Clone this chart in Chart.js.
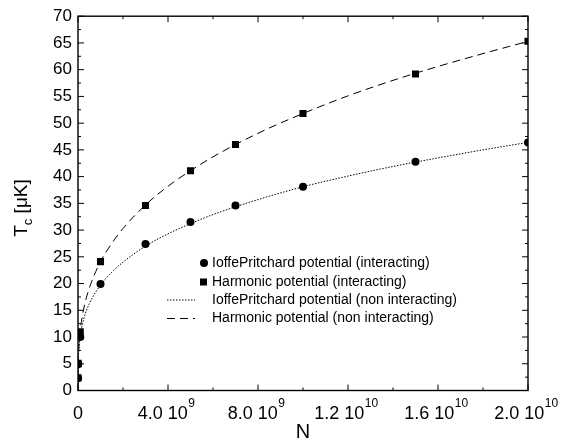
<!DOCTYPE html>
<html>
<head>
<meta charset="utf-8">
<script src="https://cdn.jsdelivr.net/npm/chart.js@4"></script>
<style>
  body { margin: 0; background: #fff; }
  #wrap { width: 565px; height: 441px; }
</style>
</head>
<body>
<div id="wrap"><canvas id="myChart" width="565" height="441"></canvas></div>
<script>
// measured points (N, Tc in microK)
const nMeasured = [1e6, 1e7, 1e8, 1e9, 3e9, 5e9, 7e9, 1e10, 1.5e10, 2e10];
const ioffeInteracting = [2.3, 4.9, 10.0, 19.9, 27.4, 31.5, 34.6, 38.1, 42.8, 46.4];
const harmonicInteracting = [2.4, 5.1, 11.0, 24.1, 34.6, 41.1, 46.0, 51.8, 59.2, 65.3];

// non interacting curves
const nCurve = [0, 1e6, 1e7, 5e7, 1e8, 2.5e8, 5e8, 1e9, 1.5e9, 2e9, 3e9, 4e9, 5e9, 6e9, 8e9, 1e10, 1.2e10, 1.4e10, 1.6e10, 1.8e10, 2e10];
const ioffeCurve = [0, 2.7, 5.3, 8.4, 10.2, 13.3, 16.2, 19.7, 22.1, 24.0, 27.0, 29.3, 31.2, 32.9, 35.7, 38.1, 40.1, 41.9, 43.5, 45.0, 46.4];
const harmonicCurve = [0, 2.4, 5.2, 8.9, 11.2, 15.2, 19.1, 24.1, 27.5, 30.3, 34.7, 38.2, 41.1, 43.7, 48.1, 51.8, 55.1, 58.0, 60.6, 63.0, 65.3];

// x tick labels: mantissa and power of ten
const xTickValues = [0, 4e9, 8e9, 1.2e10, 1.6e10, 2e10];
const xTickBase = ['0', '4.0 10', '8.0 10', '1.2 10', '1.6 10', '2.0 10'];
const xTickExp = ['', '9', '9', '10', '10', '10'];

const FONT = 'Liberation Sans, Arial, Helvetica, sans-serif';

function pts(xs, ys) {
    return xs.map((x, i) => ({ x: x, y: ys[i] }));
}

// frame, inward ticks, tick labels with exponents, axis titles and legend
const extras = {
    id: 'extras',
    afterDraw(chart) {
        const ctx = chart.ctx;
        const a = chart.chartArea;
        const xs = chart.scales.x, ys = chart.scales.y;
        ctx.save();
        ctx.strokeStyle = '#000';
        ctx.lineWidth = 1.4;
        ctx.strokeRect(a.left, a.top, a.right - a.left, a.bottom - a.top);

        ctx.lineWidth = 1;
        ctx.beginPath();
        const xt = xs.ticks.map(t => t.value);
        for (let i = 0; i < xt.length; i++) {
            const px = xs.getPixelForValue(xt[i]);
            ctx.moveTo(px, a.bottom); ctx.lineTo(px, a.bottom - 6);
            ctx.moveTo(px, a.top); ctx.lineTo(px, a.top + 6);
            if (i < xt.length - 1) {
                const pm = xs.getPixelForValue((xt[i] + xt[i + 1]) / 2);
                ctx.moveTo(pm, a.bottom); ctx.lineTo(pm, a.bottom - 3);
                ctx.moveTo(pm, a.top); ctx.lineTo(pm, a.top + 3);
            }
        }
        const yt = ys.ticks.map(t => t.value);
        for (let i = 0; i < yt.length; i++) {
            const py = ys.getPixelForValue(yt[i]);
            ctx.moveTo(a.left, py); ctx.lineTo(a.left + 6, py);
            ctx.moveTo(a.right, py); ctx.lineTo(a.right - 6, py);
            if (i < yt.length - 1) {
                const pm = ys.getPixelForValue((yt[i] + yt[i + 1]) / 2);
                ctx.moveTo(a.left, pm); ctx.lineTo(a.left + 3, pm);
                ctx.moveTo(a.right, pm); ctx.lineTo(a.right - 3, pm);
            }
        }
        ctx.stroke();

        // x tick labels like "4.0 10^9"
        ctx.fillStyle = '#000';
        ctx.textBaseline = 'alphabetic';
        ctx.textAlign = 'left';
        xTickValues.forEach((v, i) => {
            const px = xs.getPixelForValue(v);
            ctx.font = '18px ' + FONT;
            const wb = ctx.measureText(xTickBase[i]).width;
            ctx.font = '12px ' + FONT;
            const we = xTickExp[i] ? ctx.measureText(xTickExp[i]).width : 0;
            const left = px - (wb + we) / 2 - (we ? 2 : 0);
            ctx.font = '18px ' + FONT;
            ctx.fillText(xTickBase[i], left, a.bottom + 28.5);
            if (we) {
                ctx.font = '12px ' + FONT;
                ctx.fillText(xTickExp[i], left + wb + 0.5, a.bottom + 16.5);
            }
        });

        // x axis title
        ctx.font = '20px ' + FONT;
        ctx.textAlign = 'center';
        ctx.fillText('N', (a.left + a.right) / 2, 438);
        ctx.textAlign = 'left';

        // y axis title T_c [uK]
        ctx.translate(27, 208);
        ctx.rotate(-Math.PI / 2);
        ctx.font = '19px ' + FONT;
        const wT = ctx.measureText('T').width;
        const wRest = ctx.measureText(' [\u03bcK]').width;
        ctx.font = '13px ' + FONT;
        const wc = ctx.measureText('c').width;
        const x0 = -(wT + wc + wRest) / 2;
        ctx.font = '19px ' + FONT;
        ctx.fillText('T', x0, 0);
        ctx.font = '13px ' + FONT;
        ctx.fillText('c', x0 + wT, 5);
        ctx.font = '19px ' + FONT;
        ctx.fillText(' [\u03bcK]', x0 + wT + wc, 0);
        ctx.restore();

        // legend inside the plot
        ctx.save();
        ctx.font = '14px ' + FONT;
        ctx.textBaseline = 'middle';
        ctx.fillStyle = '#000';
        ctx.strokeStyle = '#000';
        const rows = [263, 282, 300, 318.5];
        chart.data.datasets.forEach((ds, i) => {
            const y = rows[i];
            if (ds.showLine) {
                ctx.lineWidth = ds.borderWidth;
                ctx.setLineDash(ds.borderDash);
                ctx.beginPath();
                ctx.moveTo(167, y); ctx.lineTo(195, y);
                ctx.stroke();
                ctx.setLineDash([]);
            } else if (ds.pointStyle === 'circle') {
                ctx.beginPath();
                ctx.arc(204, y, 4, 0, Math.PI * 2);
                ctx.fill();
            } else {
                ctx.fillRect(200, y - 3.5, 7, 7);
            }
            ctx.fillText(ds.label, 212, y);
        });
        ctx.restore();
    }
};

const ctx = document.getElementById('myChart').getContext('2d');
const chart = new Chart(ctx, {
    type: 'scatter',
    data: {
        datasets: [
            {
                label: 'IoffePritchard potential (interacting)',
                data: pts(nMeasured, ioffeInteracting),
                showLine: false,
                pointStyle: 'circle',
                pointRadius: 4,
                backgroundColor: '#000',
                borderColor: '#000',
                borderWidth: 0
            },
            {
                label: 'Harmonic potential (interacting)',
                data: pts(nMeasured, harmonicInteracting),
                showLine: false,
                pointStyle: 'rect',
                pointRadius: 5,
                backgroundColor: '#000',
                borderColor: '#000',
                borderWidth: 0
            },
            {
                label: 'IoffePritchard potential (non interacting)',
                data: pts(nCurve, ioffeCurve),
                showLine: true,
                pointRadius: 0,
                borderColor: '#000',
                borderWidth: 1,
                borderDash: [1.5, 1.5],
                cubicInterpolationMode: 'monotone'
            },
            {
                label: 'Harmonic potential (non interacting)',
                data: pts(nCurve, harmonicCurve),
                showLine: true,
                pointRadius: 0,
                borderColor: '#000',
                borderWidth: 1,
                borderDash: [8, 5],
                cubicInterpolationMode: 'monotone'
            }
        ]
    },
    options: {
        responsive: false,
        animation: false,
        layout: { padding: { left: 0, top: 15, right: 37, bottom: 0 } },
        plugins: {
            legend: { display: false },
            tooltip: { enabled: false }
        },
        scales: {
            x: {
                type: 'linear',
                min: 0,
                max: 2e10,
                grid: { display: false, drawTicks: false },
                border: { display: false },
                afterBuildTicks: s => { s.ticks = xTickValues.map(v => ({ value: v })); },
                afterFit: s => { s.height = 50.5; },
                ticks: { display: false }
            },
            y: {
                min: 0,
                max: 70,
                grid: { display: false, drawTicks: false },
                border: { display: false },
                afterFit: s => { s.width = 78; },
                ticks: {
                    stepSize: 5,
                    padding: 6,
                    color: '#000',
                    font: { family: FONT, size: 17 }
                }
            }
        }
    },
    plugins: [extras]
});
</script>
</body>
</html>
